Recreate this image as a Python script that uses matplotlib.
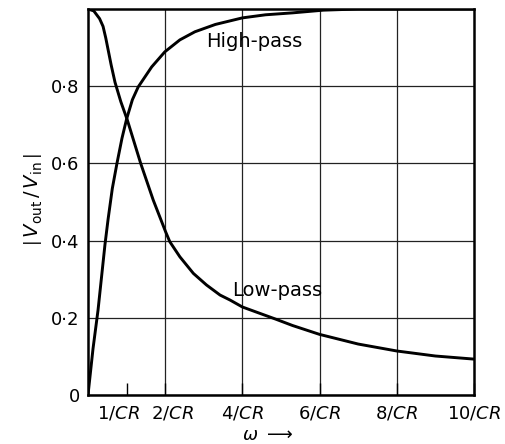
import matplotlib
matplotlib.use('Agg')
import numpy as np
import matplotlib.pyplot as plt
from matplotlib.transforms import ScaledTranslation

# values (omega in units of 1/CR)
lp_w = [0, 0.15, 0.3, 0.39, 0.46, 0.52, 0.6, 0.7, 0.85, 1.02, 1.365, 1.69, 2.01,
        2.12, 2.38, 2.73, 3.07, 3.42, 3.68, 4.0, 4.85, 5.3, 6.0, 7.0, 8.0, 9.0, 10.0]
lp_v = [1.0, 0.995, 0.975, 0.955, 0.925, 0.895, 0.855, 0.81, 0.76, 0.712, 0.60,
        0.505, 0.423, 0.397, 0.358, 0.315, 0.285, 0.259, 0.246, 0.228, 0.197,
        0.18, 0.157, 0.132, 0.114, 0.101, 0.093]

hp_w = [0, 0.13, 0.26, 0.44, 0.52, 0.63, 0.75, 0.88, 1.0, 1.15, 1.3, 1.65, 1.99,
        2.38, 2.77, 3.3, 4.0, 4.6, 5.3, 6.1, 7.0, 10.0]
hp_v = [0, 0.12, 0.22, 0.39, 0.455, 0.535, 0.60, 0.665, 0.715, 0.765, 0.798,
        0.85, 0.889, 0.92, 0.941, 0.96, 0.977, 0.985, 0.99, 0.997, 1.0, 1.0]

x_ticks = [1, 2, 4, 6, 8, 10]
x_labels = ['1/$CR$', '2/$CR$', '4/$CR$', '6/$CR$', '8/$CR$', '10/$CR$']
y_ticks = [0, 0.2, 0.4, 0.6, 0.8]
y_labels = ['0', '0\u00b72', '0\u00b74', '0\u00b76', '0\u00b78']
x_grid = [2, 4, 6, 8]

plt.rcParams['font.family'] = 'DejaVu Sans'
plt.rcParams['mathtext.fontset'] = 'dejavusans'

fig = plt.figure(figsize=(5.05, 4.44), dpi=100)
ax = fig.add_axes([88 / 505, 1 - 395 / 444, (474 - 88) / 505, (395 - 9) / 444])

ax.set_xlim(0, 10)
ax.set_ylim(0, 1)

for g in x_grid:
    ax.axvline(g, color='#222222', lw=0.9, zorder=1)
ax.grid(axis='y', color='#222222', lw=0.9, zorder=1)

ax.plot(lp_w, lp_v, color='black', lw=2.1, zorder=3, solid_joinstyle='round')
ax.plot(hp_w, hp_v, color='black', lw=2.1, zorder=3, solid_joinstyle='round')

ax.text(4.3, 0.915, 'High-pass', fontsize=14, ha='center', va='center')
ax.text(4.9, 0.27, 'Low-pass', fontsize=14, ha='center', va='center')

ax.set_xticks(x_ticks)
ax.set_xticklabels(x_labels, fontsize=13)
ax.set_yticks(y_ticks)
ax.set_yticklabels(y_labels, fontsize=13)
ax.tick_params(axis='x', direction='in', length=9, width=1, pad=7)
ax.tick_params(axis='y', length=0, pad=6)

# nudge the crowded first two labels apart
labs = ax.get_xticklabels()
labs[0].set_transform(labs[0].get_transform() + ScaledTranslation(-8 / 100, 0, fig.dpi_scale_trans))
labs[1].set_transform(labs[1].get_transform() + ScaledTranslation(7 / 100, 0, fig.dpi_scale_trans))

for s in ax.spines.values():
    s.set_linewidth(1.8)

fig.text(33 / 505, 1 - 200 / 444, r'$\left|\,V_{\rm out}\,/\,V_{\rm in}\,\right|$',
         rotation=90, fontsize=14, ha='center', va='center')
fig.text(268 / 505, 1 - 426 / 444, r'$\omega\ \longrightarrow$', fontsize=13,
         ha='center', va='top')

fig.savefig('out.png', dpi=100)
